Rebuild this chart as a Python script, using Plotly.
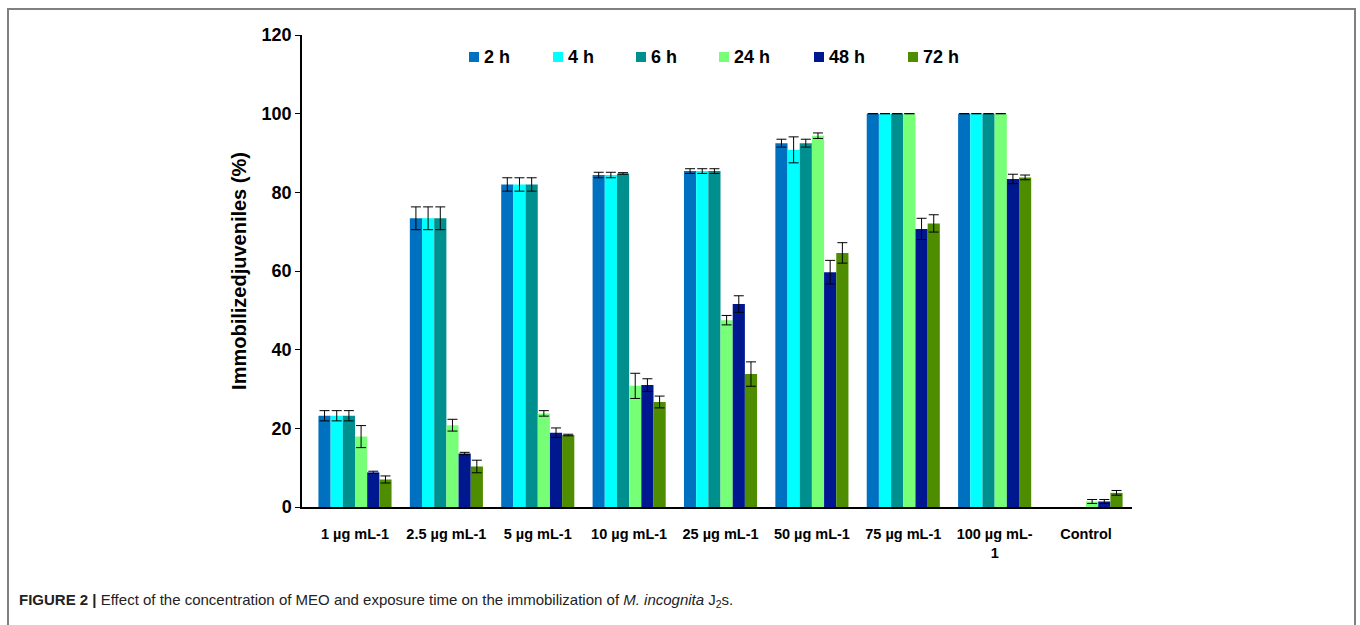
import plotly.graph_objects as go

# ---------------- data ----------------
categories = ["1 µg mL-1", "2.5 µg mL-1", "5 µg mL-1", "10 µg mL-1", "25 µg mL-1",
              "50 µg mL-1", "75 µg mL-1", "100 µg mL-<br>1", "Control"]
series_names = ["2 h", "4 h", "6 h", "24 h", "48 h", "72 h"]

h2 = [23.2, 73.4, 82.0, 84.4, 85.4, 92.5, 100, 100, None]
h2_err = [1.3, 2.9, 1.7, 0.7, 0.6, 1.0, 0, 0, None]
h4 = [23.2, 73.4, 82.0, 84.4, 85.4, 90.8, 100, 100, None]
h4_err = [1.3, 2.9, 1.7, 0.7, 0.6, 3.3, 0, 0, None]
h6 = [23.2, 73.4, 82.0, 84.8, 85.4, 92.5, 100, 100, None]
h6_err = [1.3, 2.9, 1.7, 0.2, 0.6, 1.0, 0, 0, None]
h24 = [17.9, 20.8, 23.8, 30.8, 47.5, 94.4, 100, 100, 1.4]
h24_err = [2.8, 1.5, 0.7, 3.2, 1.2, 0.7, 0, 0, 0.5]
h48 = [8.8, 13.6, 18.9, 31.0, 51.6, 59.7, 70.7, 83.4, 1.4]
h48_err = [0.3, 0.3, 1.2, 1.6, 2.1, 3.0, 2.7, 1.2, 0.5]
h72 = [7.0, 10.3, 18.3, 26.7, 33.8, 64.6, 72.1, 83.8, 3.6]
h72_err = [0.9, 1.6, 0.2, 1.5, 3.1, 2.6, 2.2, 0.6, 0.6]

y_ticks = [0, 20, 40, 60, 80, 100, 120]

# ---------------- style ----------------
colors = ["#0070C0", "#00FFFF", "#008F8F", "#78FF78", "#00188F", "#4E8C00"]
values = [h2, h4, h6, h24, h48, h72]
errors = [h2_err, h4_err, h6_err, h24_err, h48_err, h72_err]
FONT = "Liberation Sans, Arial, sans-serif"

W, H = 1360, 625
L, R, T, B = 302, 228, 35, 118
pw, ph = W - L - R, H - T - B


def px_x(p):
    return (p - L) / pw


def px_y(p):
    return (H - B - p) / ph


fig = go.Figure()
for name, vals, errs, col in zip(series_names, values, errors, colors):
    fig.add_trace(go.Bar(
        name=name, x=categories, y=vals,
        marker=dict(color=col, line=dict(width=0)),
        error_y=dict(type="data", array=errs, visible=True,
                     color="black", thickness=1, width=5),
        showlegend=False,
    ))

# manual legend (positions in pixels)
legend_left = [469, 553, 636, 719, 814, 908]
legend_y = 57
for name, col, lx in zip(series_names, colors, legend_left):
    fig.add_shape(type="rect", xref="paper", yref="paper",
                  x0=px_x(lx), x1=px_x(lx + 10),
                  y0=px_y(legend_y + 5), y1=px_y(legend_y - 5),
                  fillcolor=col, line=dict(width=0))
    fig.add_annotation(xref="paper", yref="paper", x=px_x(lx + 13), y=px_y(legend_y),
                       xanchor="left", yanchor="middle", showarrow=False,
                       text=f"<b>{name}</b>",
                       font=dict(family=FONT, size=18, color="black"))

# figure frame
fig.add_shape(type="rect", xref="paper", yref="paper",
              x0=px_x(8), x1=px_x(1355), y0=px_y(640), y1=px_y(9),
              line=dict(color="#808080", width=2), fillcolor="rgba(0,0,0,0)")

# caption
fig.add_annotation(
    xref="paper", yref="paper", x=px_x(17), y=px_y(600),
    xanchor="left", yanchor="middle", showarrow=False,
    text=("<b>FIGURE 2 |</b> Effect of the concentration of MEO and exposure time on the "
          "immobilization of <i>M. incognita</i> J<sub>2</sub>s."),
    font=dict(family=FONT, size=15, color="#222222"))

fig.update_layout(
    width=W, height=H,
    margin=dict(l=L, r=R, t=T, b=B, autoexpand=False),
    paper_bgcolor="white", plot_bgcolor="white",
    barmode="group", bargap=0.2, bargroupgap=0,
    font=dict(family=FONT, color="black"),
    xaxis=dict(
        range=[-0.58, 8.503], showline=True, linecolor="black", linewidth=1.5,
        ticks="", showgrid=False, zeroline=False,
        tickfont=dict(family=FONT, size=14.5, color="black", weight="bold"),
        ticklabelstandoff=13,
    ),
    yaxis=dict(
        range=[0, 120], tickvals=y_ticks, showline=True, linecolor="black", linewidth=1.5,
        ticks="outside", ticklen=5, tickcolor="black", tickwidth=1,
        showgrid=False, zeroline=False,
        tickfont=dict(family=FONT, size=18, color="black", weight="bold"),
        title=dict(text="Immobilizedjuveniles (%)", standoff=10,
                   font=dict(family=FONT, size=20, color="black", weight="bold")),
    ),
)

fig.write_html("out.html")
